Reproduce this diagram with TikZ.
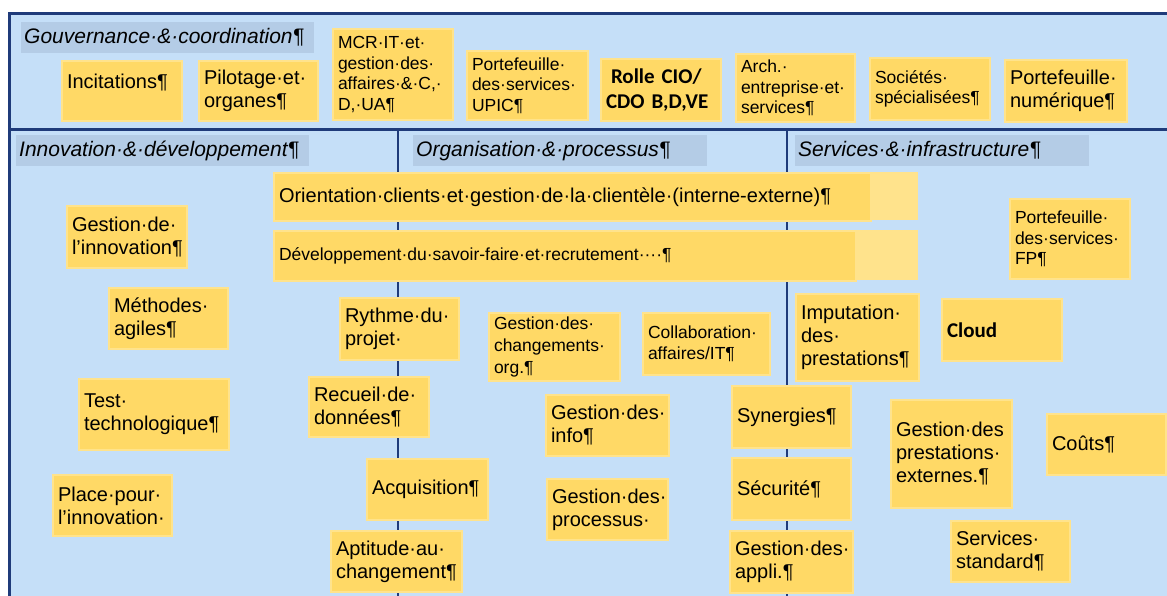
\documentclass[tikz,border=0pt]{standalone}
\usepackage{fontspec}
\setmainfont{Liberation Sans}
\newfontfamily\calibri{Carlito}

\definecolor{fond}{HTML}{C5DFF8}
\definecolor{cadre}{HTML}{1F3B7A}
\definecolor{bandeau}{HTML}{B4CCE6}
\definecolor{jaune}{HTML}{FFD966}
\definecolor{jauneclair}{HTML}{FFE38C}

\begin{document}
\begin{tikzpicture}[x=1pt,y=-1pt,
  trait/.style={draw=cadre,line width=3pt},
  filet/.style={draw=cadre,line width=2.5pt},
  postit/.style 2 args={draw=jauneclair,fill=jaune,line width=2pt,anchor=north west,
    minimum width=#1pt,minimum height=#2pt,text width=#1pt-10pt,inner xsep=5pt,inner ysep=1pt,
    align=left,font=\fontsize{20}{23}\selectfont},
  petit/.style={font=\fontsize{17.5}{20.5}\selectfont},
  gras/.style={font=\calibri\bfseries\fontsize{21}{25}\selectfont},
  titre/.style={fill=bandeau,anchor=north west,minimum width=#1pt,minimum height=31pt,
    text width=#1pt-6pt,inner xsep=3pt,align=left,font=\itshape\fontsize{21}{24}\selectfont}]
\useasboundingbox (0,0) rectangle (1167,596);

\fill[fond] (9,14) rectangle (1167,596);
\draw[trait] (1167,14) -- (9,14) -- (9,596);
\draw[trait] (9,130) -- (1167,130);
\draw[filet] (398,130) -- (398,596);
\draw[filet] (787,130) -- (787,596);

\node[titre=293] (gouv) at (21,22) {Gouvernance·\&·coordination¶};
\node[titre=293] (inno) at (16,135) {Innovation·\&·développement¶};
\node[titre=294] (orga) at (413,135) {Organisation·\&·processus¶};
\node[titre=294] (serv) at (795,135) {Services·\&·infrastructure¶};

\node[postit={120}{60},text depth=19pt] (incit) at (61,60) {Incitations¶};
\node[postit={119}{60}] (pilot) at (198,60) {Pilotage·et·\\organes¶};
\node[postit={120}{91},petit] (mcr) at (332,28) {MCR·IT·et·\\gestion·des·\\affaires·\&·C,·\\D,·UA¶};
\node[postit={121}{69},petit] (upic) at (466,50) {Portefeuille·\\des·services·\\UPIC¶};
\node[postit={120}{62},gras] (cio) at (600,58) {\leftskip=5pt Rolle CIO/\\CDO B,D,VE};
\node[postit={119}{68},petit] (arch) at (735,53) {Arch.·\\entreprise·et·\\services¶};
\node[postit={120}{62},petit] (soc) at (869,57) {Sociétés·\\spécialisées¶};
\node[postit={122}{62}] (num) at (1004,59) {Portefeuille·\\numérique¶};

\fill[jauneclair] (273,172) rectangle (918,220);
\node[postit={597}{48},inner xsep=2pt] (orient) at (273,172)
  {Orientation·clients·et·gestion·de·la·clientèle·(interne-externe)¶};
\fill[jauneclair] (273,230) rectangle (918,280);
\node[postit={582}{50},petit,inner xsep=2pt] (savoir) at (273,230)
  {Développement·du·savoir-faire·et·recrutement····¶};

\node[postit={120}{62}] (ginno) at (66,205) {Gestion·de·\\l’innovation¶};
\node[postit={119}{61}] (agile) at (108,287) {Méthodes·\\agiles¶};
\node[postit={150}{71}] (techno) at (78,378) {Test·\\technologique¶};
\node[postit={119}{61}] (place) at (52,474) {Place·pour·\\l’innovation·};

\node[postit={119}{62}] (rythme) at (339,297) {Rythme·du·\\projet·};
\node[postit={120}{60}] (recueil) at (308,376) {Recueil·de·\\données¶};
\node[postit={121}{61}] (acq) at (366,458) {Acquisition¶};
\node[postit={131}{61}] (aptit) at (330,530) {Aptitude·au·\\changement¶};
\node[postit={131}{68},font=\fontsize{17.5}{22}\selectfont] (gchg) at (488,312)
  {Gestion·des·\\changements·\\org.¶};
\node[postit={127}{62},petit] (collab) at (642,312) {Collaboration·\\affaires/IT¶};
\node[postit={123}{61}] (ginfo) at (545,394) {Gestion·des·\\info¶};
\node[postit={121}{61}] (gproc) at (546,478) {Gestion·des·\\processus·};

\node[postit={120}{80},petit] (pfp) at (1009,198) {Portefeuille·\\des·services·\\FP¶};
\node[postit={123}{87}] (imput) at (795,293) {Imputation·\\des·\\prestations¶};
\node[postit={120}{62},gras] (cloud) at (941,298) {\leftskip=5pt Cloud};
\node[postit={119}{62}] (syn) at (731,385) {Synergies¶};
\node[postit={119}{62}] (secu) at (731,457) {Sécurité¶};
\node[postit={123}{62}] (gappli) at (729,530) {Gestion·des·\\appli.¶};
\node[postit={121}{108}] (gpext) at (890,399) {Gestion·des\\prestations·\\externes.¶};
\node[postit={119}{61}] (couts) at (1046,413) {\leftskip=5pt Coûts¶};
\node[postit={119}{61}] (sstd) at (950,520) {Services·\\standard¶};

\end{tikzpicture}
\end{document}
